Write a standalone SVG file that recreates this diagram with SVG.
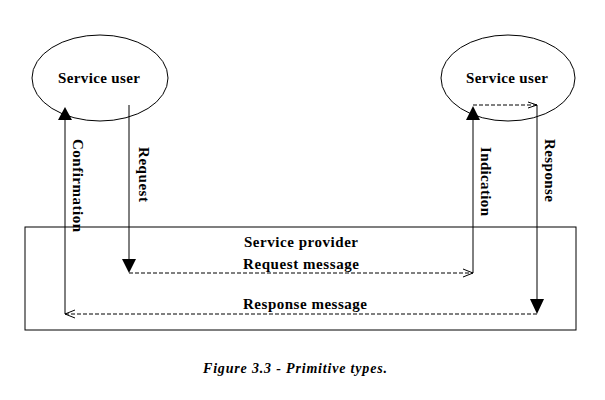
<svg xmlns="http://www.w3.org/2000/svg" width="605" height="400" viewBox="0 0 605 400">
<style>
.t{font-family:"Liberation Serif","Times New Roman",serif;font-weight:bold;font-size:15px;fill:#000}
.cap{font-family:"Liberation Serif","Times New Roman",serif;font-weight:bold;font-style:italic;font-size:14px;fill:#000}
.ln{stroke:#000;stroke-width:1;fill:none}
.dash{stroke:#000;stroke-width:1;fill:none;stroke-dasharray:4 2}
.head{fill:#000;stroke:none}
.open{stroke:#000;stroke-width:1;fill:none}
</style>
<rect width="605" height="400" fill="#fff"/>
<g id="user-left">
<ellipse cx="100" cy="78" rx="68" ry="43" class="ln"/>
<text class="t" x="58" y="83" textLength="82" lengthAdjust="spacing">Service user</text>
</g>
<g id="user-right">
<ellipse cx="508" cy="78" rx="67" ry="43" class="ln"/>
<text class="t" x="466" y="83" textLength="82" lengthAdjust="spacing">Service user</text>
</g>
<g id="provider">
<rect x="25" y="227" width="551" height="103" class="ln"/>
<text class="t" x="244" y="247" textLength="114" lengthAdjust="spacing">Service provider</text>
</g>
<g id="connectors">
<line x1="65" y1="120" x2="65" y2="314" class="ln"/>
<polygon points="65,107 58,120 72,120" class="head"/>
<line x1="129" y1="105" x2="129" y2="260" class="ln"/>
<polygon points="122,259 136,259 129,273" class="head"/>
<line x1="129" y1="273" x2="473" y2="273" class="dash"/>
<polyline points="463,269 473,273 463,277" class="open"/>
<line x1="473" y1="273" x2="473" y2="120" class="ln"/>
<polygon points="473,106 466,120 480,120" class="head"/>
<line x1="473" y1="105" x2="537" y2="105" class="dash"/>
<polyline points="528,102 537,105 528,108" class="open"/>
<line x1="537" y1="105" x2="537" y2="300" class="ln"/>
<polygon points="530,299 544,299 537,314" class="head"/>
<line x1="537" y1="314" x2="65" y2="314" class="dash"/>
<polyline points="75,310 65,314 75,318" class="open"/>
<text class="t" transform="translate(73,139) rotate(90)" textLength="93" lengthAdjust="spacing">Confirmation</text>
<text class="t" transform="translate(139,147) rotate(90)" textLength="55" lengthAdjust="spacing">Request</text>
<text class="t" transform="translate(481,147) rotate(90)" textLength="69" lengthAdjust="spacing">Indication</text>
<text class="t" transform="translate(545,139) rotate(90)" textLength="63" lengthAdjust="spacing">Response</text>
<text class="t" x="243" y="269" textLength="116" lengthAdjust="spacing">Request message</text>
<text class="t" x="243" y="309" textLength="124" lengthAdjust="spacing">Response message</text>
</g>
<text class="cap" x="203" y="373" textLength="184" lengthAdjust="spacing">Figure 3.3 - Primitive types.</text>
</svg>
